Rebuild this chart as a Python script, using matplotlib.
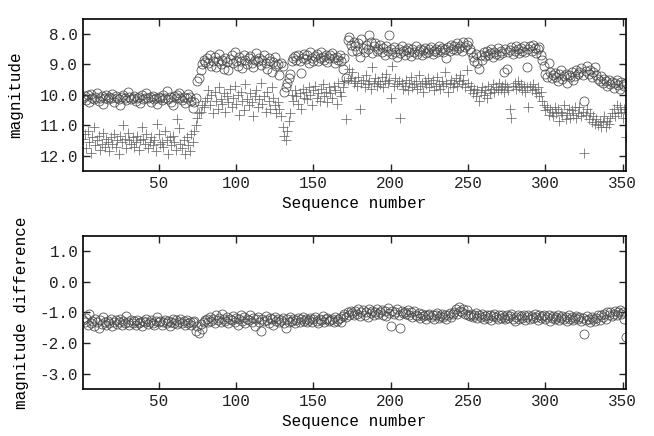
import numpy as np
import matplotlib
matplotlib.use("Agg")
import matplotlib.pyplot as plt

# magnitudes, one value per sequence number (1..352)
mag_circle = [
    10.12, 10.05, 10.18, 10.02, 10.25, 9.98, 10.10, 10.15, 10.08, 9.95, 10.20, 10.12, 10.05, 10.30, 10.10, 10.02,
    10.15, 10.08, 10.12, 9.98, 10.22, 10.05, 10.10, 10.14, 10.35, 10.06, 10.00, 10.12, 10.18, 9.92, 10.08, 10.15,
    10.10, 10.04, 10.20, 10.12, 10.06, 10.28, 10.02, 10.15, 10.10, 9.95, 10.12, 10.08, 10.22, 10.05, 10.14, 10.10,
    10.30, 10.06, 10.12, 10.18, 10.02, 10.10, 9.88, 10.15, 10.08, 10.25, 10.35, 10.05, 10.12, 10.00, 9.95, 10.10,
    10.18, 10.06, 10.28, 10.12, 9.98, 10.08, 10.20, 10.42, 10.25, 10.10, 9.55, 9.45, 9.20, 9.00, 8.85, 8.92,
    8.80, 8.95, 8.70, 9.05, 8.88, 8.75, 9.10, 8.90, 8.65, 8.98, 8.85, 9.15, 8.78, 8.92, 9.20, 8.82,
    8.70, 8.95, 8.60, 8.88, 9.05, 8.75, 8.90, 9.12, 8.68, 8.85, 9.00, 8.80, 8.72, 8.95, 9.08, 8.85,
    8.62, 8.90, 8.78, 9.02, 8.85, 8.70, 8.95, 9.15, 8.80, 8.88, 9.25, 8.92, 8.75, 9.05, 8.98, 9.35,
    8.95, 9.05, 9.90, 9.75, 9.60, 9.45, 9.30, 8.90, 8.80, 8.72, 8.85, 8.70, 8.90, 9.28, 8.78, 8.65,
    8.82, 8.70, 8.95, 8.60, 8.78, 8.88, 8.72, 8.65, 8.90, 8.80, 8.58, 8.75, 8.85, 8.68, 8.92, 8.78,
    8.70, 8.62, 8.80, 8.95, 8.75, 8.85, 8.68, 8.90, 9.15, 8.78, 9.45, 8.20, 8.10, 8.35, 8.55, 8.25,
    8.40, 8.55, 8.30, 8.75, 8.15, 8.45, 8.60, 8.35, 8.50, 8.05, 8.25, 8.62, 8.40, 8.30, 8.55, 8.48,
    8.35, 8.60, 8.45, 8.70, 8.38, 8.55, 8.05, 8.50, 8.65, 8.42, 8.58, 8.75, 8.48, 8.62, 8.40, 8.55,
    8.68, 8.52, 8.45, 8.60, 8.72, 8.50, 8.58, 8.40, 8.65, 8.55, 8.48, 8.70, 8.52, 8.45, 8.62, 8.58,
    8.50, 8.42, 8.66, 8.55, 8.48, 8.60, 8.38, 8.52, 8.45, 8.58, 8.50, 8.80, 8.42, 8.55, 8.35, 8.48,
    8.40, 8.52, 8.30, 8.45, 8.38, 8.55, 8.25, 8.42, 8.35, 8.28, 8.48, 8.60, 8.75, 8.90, 8.65, 8.95,
    9.15, 8.70, 8.85, 8.60, 8.72, 8.55, 8.68, 8.62, 8.50, 8.75, 8.58, 8.65, 8.45, 8.70, 8.55, 8.62,
    9.25, 8.48, 9.15, 8.60, 8.52, 8.42, 8.65, 8.55, 8.38, 8.50, 8.62, 8.45, 8.55, 8.40, 8.58, 9.10,
    8.48, 8.40, 8.55, 8.35, 8.45, 8.62, 8.50, 8.42, 8.70, 8.85, 9.05, 9.30, 9.40, 8.95, 9.25, 9.45,
    9.35, 9.28, 9.40, 9.55, 9.32, 9.20, 9.48, 9.38, 9.30, 9.60, 9.35, 9.42, 9.25, 9.52, 9.38, 9.18,
    9.30, 9.25, 9.12, 9.35, 10.20, 9.22, 9.05, 9.30, 9.18, 9.42, 9.25, 9.10, 9.35, 9.48, 9.55, 9.38,
    9.62, 9.48, 9.55, 9.72, 9.50, 9.65, 9.58, 9.78, 9.62, 9.50, 9.68, 9.82, 9.58, 9.65, 9.72, 9.60,
]

mag_plus = [
    11.45, 11.30, 11.75, 11.20, 11.55, 11.90, 11.40, 11.05, 11.65, 11.50, 11.35, 11.80, 11.60, 11.25, 11.70, 11.45,
    11.55, 11.85, 11.40, 11.60, 11.30, 11.70, 11.50, 11.95, 11.35, 11.55, 11.00, 11.45, 11.75, 11.25, 11.50, 11.60,
    11.40, 11.70, 11.55, 11.35, 11.80, 11.50, 11.05, 11.45, 11.60, 11.30, 11.75, 11.55, 11.40, 11.65, 11.50, 11.85,
    10.95, 11.30, 11.60, 11.55, 11.70, 11.20, 11.50, 11.95, 11.40, 11.65, 11.35, 11.55, 11.80, 10.80, 11.10, 11.60,
    11.75, 11.50, 11.95, 11.40, 11.65, 11.85, 11.30, 11.55, 11.20, 11.00, 10.75, 10.60, 10.55, 10.35, 10.40, 10.20,
    10.10, 9.85, 10.35, 10.00, 10.60, 9.90, 10.20, 10.45, 9.75, 10.15, 10.30, 9.95, 10.55, 10.05, 10.25, 9.80,
    10.40, 10.10, 9.70, 10.30, 10.00, 10.65, 9.90, 10.20, 10.50, 9.65, 10.15, 10.35, 9.95, 10.25, 10.70, 10.05,
    9.85, 10.40, 10.15, 9.60, 10.30, 10.05, 10.55, 9.90, 10.20, 10.45, 9.75, 10.10, 10.35, 10.60, 10.25, 10.45,
    10.70, 11.05, 11.35, 11.50, 11.20, 10.85, 10.60, 10.00, 10.20, 9.85, 10.05, 10.30, 9.95, 10.45, 9.80, 10.10,
    9.90, 10.15, 9.75, 10.00, 10.35, 9.85, 9.70, 10.10, 9.95, 10.20, 9.80, 9.65, 10.05, 9.90, 10.25, 9.75,
    9.95, 10.10, 9.70, 9.85, 10.30, 9.60, 9.90, 10.05, 9.75, 9.55, 10.80, 9.50, 9.15, 9.45, 9.25, 9.60,
    9.55, 9.70, 9.40, 10.45, 9.60, 9.50, 9.75, 9.35, 9.65, 9.55, 9.80, 9.10, 9.60, 9.45, 9.70, 9.55,
    9.65, 9.40, 9.75, 9.55, 9.30, 9.60, 9.50, 10.10, 9.05, 9.70, 9.45, 9.65, 9.55, 10.75, 9.60, 9.80,
    9.70, 9.50, 9.85, 9.60, 9.40, 9.75, 9.65, 9.55, 9.80, 9.35, 9.70, 9.60, 9.90, 9.55, 9.65, 9.45,
    9.75, 9.60, 9.50, 9.85, 9.70, 9.40, 9.65, 9.80, 9.55, 9.70, 9.25, 9.60, 9.90, 9.65, 9.50, 9.75,
    9.60, 9.45, 9.70, 9.55, 9.35, 9.65, 9.50, 9.75, 9.20, 9.60, 9.85, 9.70, 9.95, 9.80, 10.05, 9.85,
    10.20, 9.90, 9.75, 10.00, 9.85, 10.10, 9.70, 9.95, 9.80, 9.65, 9.90, 9.75, 9.85, 9.60, 9.80, 9.70,
    9.90, 9.65, 9.75, 9.85, 10.45, 10.75, 9.70, 9.60, 9.80, 9.55, 9.75, 9.65, 9.85, 9.70, 9.90, 9.75,
    10.40, 9.70, 9.85, 9.65, 9.80, 9.95, 9.75, 10.05, 9.90, 10.20, 10.35, 10.50, 10.40, 10.65, 10.45, 10.55,
    10.70, 10.40, 10.60, 10.45, 10.85, 10.55, 10.65, 10.35, 10.80, 10.60, 10.45, 10.75, 10.50, 10.65, 10.40, 10.75,
    10.60, 10.40, 10.70, 10.55, 11.90, 10.65, 10.45, 10.80, 10.60, 10.90, 10.70, 10.95, 10.80, 11.00, 10.85, 11.05,
    10.90, 10.70, 11.05, 10.85, 10.95, 10.75, 10.60, 10.45, 10.70, 10.35, 10.60, 10.40, 10.55, 10.75, 10.45, 11.40,
]

mag_diff = [
    -1.25, -1.30, -1.18, -1.40, -1.05, -1.35, -1.28, -1.45, -1.22, -1.32, -1.50, -1.26, -1.38, -1.15, -1.30, -1.42,
    -1.28, -1.35, -1.20, -1.45, -1.30, -1.25, -1.38, -1.32, -1.22, -1.40, -1.28, -1.35, -1.12, -1.30, -1.42, -1.26,
    -1.34, -1.28, -1.40, -1.24, -1.36, -1.30, -1.45, -1.27, -1.32, -1.22, -1.38, -1.30, -1.25, -1.35, -1.42, -1.28,
    -1.15, -1.33, -1.27, -1.40, -1.30, -1.24, -1.36, -1.28, -1.45, -1.32, -1.20, -1.35, -1.26, -1.38, -1.30, -1.22,
    -1.34, -1.28, -1.40, -1.25, -1.35, -1.30, -1.42, -1.32, -1.28, -1.60, -1.45, -1.68, -1.38, -1.55, -1.30, -1.25,
    -1.20, -1.32, -1.15, -1.28, -1.22, -1.35, -1.10, -1.25, -1.18, -1.30, -1.05, -1.22, -1.28, -1.15, -1.35, -1.20,
    -1.25, -1.12, -1.30, -1.18, -1.40, -1.22, -1.08, -1.28, -1.15, -1.35, -1.20, -1.25, -1.10, -1.30, -1.18, -1.45,
    -1.22, -1.15, -1.30, -1.62, -1.20, -1.28, -1.12, -1.25, -1.35, -1.18, -1.22, -1.40, -1.15, -1.28, -1.20, -1.32,
    -1.25, -1.18, -1.35, -1.52, -1.22, -1.30, -1.15, -1.28, -1.20, -1.35, -1.25, -1.18, -1.30, -1.22, -1.15, -1.28,
    -1.20, -1.32, -1.25, -1.18, -1.30, -1.22, -1.15, -1.28, -1.35, -1.20, -1.25, -1.12, -1.30, -1.22, -1.18, -1.28,
    -1.25, -1.20, -1.32, -1.15, -1.28, -1.22, -1.18, -1.30, -1.12, -1.05, -1.15, -0.98, -1.08, -0.95, -1.02, -1.10,
    -0.95, -1.05, -0.90, -1.12, -1.00, -0.92, -1.08, -0.98, -1.15, -0.88, -1.02, -0.95, -1.10, -0.98, -0.90, -1.05,
    -1.00, -0.92, -1.08, -0.96, -1.12, -0.85, -1.02, -1.45, -0.95, -1.05, -0.98, -0.90, -1.10, -1.50, -0.95, -1.02,
    -0.98, -1.05, -0.92, -1.10, -1.00, -1.15, -0.95, -1.08, -1.12, -1.02, -1.18, -1.05, -1.12, -1.08, -1.20, -1.10,
    -1.05, -1.15, -1.08, -1.20, -1.10, -1.02, -1.18, -1.12, -1.05, -1.15, -1.08, -1.22, -1.10, -1.02, -1.15, -1.05,
    -0.98, -0.90, -1.05, -0.82, -0.95, -1.00, -0.88, -1.05, -0.92, -1.08, -1.12, -1.05, -1.15, -1.10, -1.02, -1.18,
    -1.10, -1.15, -1.05, -1.20, -1.12, -1.08, -1.18, -1.10, -1.25, -1.12, -1.05, -1.15, -1.20, -1.10, -1.18, -1.08,
    -1.15, -1.22, -1.10, -1.18, -1.12, -1.05, -1.20, -1.28, -1.15, -1.10, -1.22, -1.12, -1.18, -1.08, -1.25, -1.15,
    -1.10, -1.20, -1.12, -1.18, -1.05, -1.15, -1.25, -1.10, -1.18, -1.12, -1.08, -1.22, -1.15, -1.10, -1.28, -1.18,
    -1.12, -1.20, -1.15, -1.08, -1.25, -1.18, -1.12, -1.22, -1.15, -1.28, -1.10, -1.20, -1.15, -1.25, -1.18, -1.12,
    -1.22, -1.15, -1.28, -1.18, -1.70, -1.25, -1.12, -1.20, -1.30, -1.15, -1.22, -1.28, -1.18, -1.10, -1.25, -1.08,
    -1.15, -1.05, -1.20, -1.00, -1.10, -0.98, -1.12, -1.05, -0.95, -1.08, -1.00, -0.92, -1.05, -0.98, -1.20, -1.80,
]

seq = np.arange(1, len(mag_circle) + 1)
xticks = [50, 100, 150, 200, 250, 300, 350]

plt.rcParams['font.family'] = ['Liberation Mono', 'DejaVu Sans Mono']
plt.rcParams['font.size'] = 11.5
plt.rcParams['text.color'] = '#222222'
plt.rcParams['xtick.color'] = '#222222'
plt.rcParams['ytick.color'] = '#222222'

fig = plt.figure(figsize=(6.54, 4.36), dpi=100)
ax1 = fig.add_axes([0.127, 0.608, 0.830, 0.349])
ax2 = fig.add_axes([0.127, 0.108, 0.830, 0.351])

# top panel: the two stars
ax1.plot(seq, mag_plus, linestyle='none', marker='+', markersize=7,
         markeredgewidth=0.55, color='#6a6a6a')
ax1.plot(seq, mag_circle, linestyle='none', marker='o', markersize=6.5,
         markeredgewidth=0.55, markerfacecolor='none', markeredgecolor='#4a4a4a')
ax1.set_ylim(12.5, 7.5)
ax1.set_yticks([8, 9, 10, 11, 12])
ax1.set_yticklabels(['8.0', '9.0', '10.0', '11.0', '12.0'])
ax1.set_ylabel('magnitude', labelpad=12)

# bottom panel: difference
ax2.plot(seq, mag_diff, linestyle='none', marker='o', markersize=6.5,
         markeredgewidth=0.55, markerfacecolor='none', markeredgecolor='#4a4a4a')
ax2.set_ylim(-3.5, 1.5)
ax2.set_yticks([1, 0, -1, -2, -3])
ax2.set_yticklabels(['1.0', '0.0', '-1.0', '-2.0', '-3.0'])
ax2.set_ylabel('magnitude difference', labelpad=8)

for ax in (ax1, ax2):
    ax.set_xlim(1, 352)
    ax.set_xticks(xticks)
    ax.set_xlabel('Sequence number')
    ax.tick_params(direction='in', top=True, right=True, length=5, width=1)
    for s in ax.spines.values():
        s.set_linewidth(1.2)

fig.savefig('out.png', dpi=100)
